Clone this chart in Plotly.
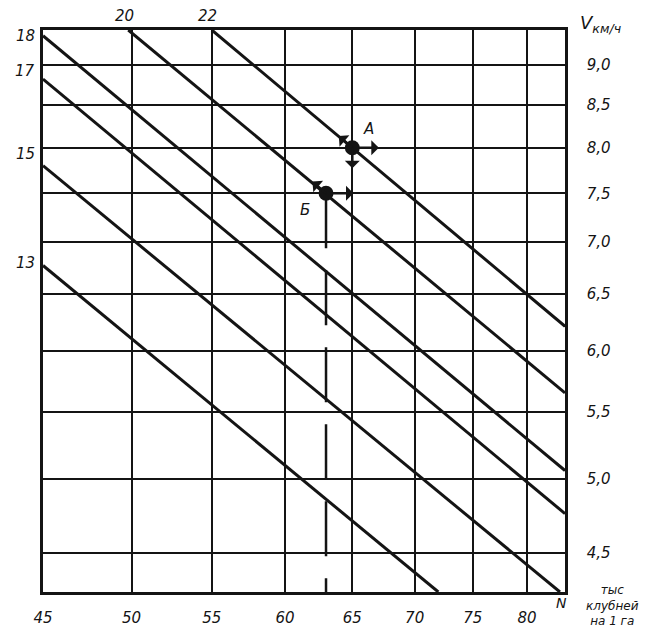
import numpy as np
import plotly.graph_objects as go

# ---- data ----
N_ticks = [45, 50, 55, 60, 65, 70, 75, 80]
N_tick_text = ["45", "50", "55", "60", "65", "70", "75", "80"]
V_ticks = [4.5, 5.0, 5.5, 6.0, 6.5, 7.0, 7.5, 8.0, 8.5, 9.0]
V_tick_text = ["4,5", "5,0", "5,5", "6,0", "6,5", "7,0", "7,5", "8,0", "8,5", "9,0"]
N_range = [45.0, 83.7]
V_range = [4.259, 9.456]

line_labels = ["13", "15", "17", "18", "20", "22"]
line_N_start = [45.0, 45.0, 45.0, 45.0, 49.8, 55.0]
line_V_start = [6.77, 7.80, 8.82, 9.38, 9.456, 9.456]
line_N_end = [72.0, 83.2, 83.7, 83.7, 83.7, 83.7]
line_V_end = [4.259, 4.259, 4.76, 5.06, 5.65, 6.21]

point_labels = ["А", "Б"]
point_N = [65.0, 63.0]
point_V = [8.0, 7.5]

# ---- styling ----
INK = "#141414"
FONT = dict(family="DejaVu Sans", size=15, color=INK, style="italic")
OFF = 8  # default page body margin
W, H = 649, 631
PW, PH = 522, 565
ML, MT = 43 - OFF, 30 - OFF
MR, MB = W - ML - PW, H - MT - PH


def px_x(px):
    return (px - OFF - ML) / PW


def px_y(py):
    return 1 - (py - OFF - MT) / PH


fig = go.Figure()

for lab, n0, v0, n1, v1 in zip(line_labels, line_N_start, line_V_start, line_N_end, line_V_end):
    fig.add_trace(go.Scatter(x=[n0, n1], y=[v0, v1], mode="lines",
                             line=dict(color=INK, width=3), showlegend=False,
                             hoverinfo="skip", name=lab))

# dashed drop line from point Б to the N axis
fig.add_trace(go.Scatter(x=[point_N[1], point_N[1]], y=[point_V[1], V_range[0]],
                         mode="lines", line=dict(color=INK, width=2.5, dash="55px,22px"),
                         showlegend=False, hoverinfo="skip"))

fig.add_trace(go.Scatter(x=point_N, y=point_V, mode="markers",
                         marker=dict(color=INK, size=15), showlegend=False,
                         hoverinfo="skip"))

ann = []
# line labels on the left edge / top edge
left_shift = {"13": 2, "15": 12, "17": 8, "18": 0}
for lab, n0, v0 in zip(line_labels, line_N_start, line_V_start):
    if lab in left_shift:
        ann.append(dict(text=lab, xref="paper", x=px_x(25), yref="y", y=np.log10(v0),
                        yshift=left_shift[lab], showarrow=False, font=FONT,
                        xanchor="center", yanchor="middle"))
    else:
        ann.append(dict(text=lab, xref="x", x=np.log10(n0), xshift=-4, yref="paper",
                        y=px_y(16), showarrow=False, font=FONT,
                        xanchor="center", yanchor="middle"))

# point labels
ann.append(dict(text=point_labels[0], x=np.log10(point_N[0]), y=np.log10(point_V[0]),
                xref="x", yref="y", xshift=16, yshift=19, showarrow=False, font=FONT))
ann.append(dict(text=point_labels[1], x=np.log10(point_N[1]), y=np.log10(point_V[1]),
                xref="x", yref="y", xshift=-21, yshift=-17, showarrow=False, font=FONT))

# small arrows around the points
arrows = [(0, -15, -13), (0, 28, 0), (0, 0, 22), (1, -15, -13), (1, 29, 0)]
for i, ax, ay in arrows:
    ann.append(dict(x=np.log10(point_N[i]), y=np.log10(point_V[i]), xref="x", yref="y",
                    ax=ax, ay=ay, showarrow=True, arrowside="start", arrowhead=2,
                    arrowsize=1, arrowwidth=2.5, arrowcolor=INK, text=""))

# axis titles
ann.append(dict(text="V<sub>км/ч</sub>", xref="paper", yref="paper", x=px_x(578),
                y=px_y(24), xanchor="left", yanchor="middle", showarrow=False,
                font=dict(family="DejaVu Sans", size=18, color=INK, style="italic")))
ann.append(dict(text="N", xref="paper", yref="paper", x=px_x(561), y=px_y(606),
                xanchor="center", yanchor="middle", showarrow=False,
                font=dict(family="DejaVu Sans", size=14, color=INK, style="italic")))
ann.append(dict(text="тыс<br>клубней<br>на 1 га", xref="paper", yref="paper",
                x=px_x(612), y=px_y(609), xanchor="center", yanchor="middle",
                showarrow=False, align="center",
                font=dict(family="DejaVu Sans", size=12, color=INK, style="italic")))

axis_common = dict(type="log", showgrid=True, gridcolor=INK, gridwidth=2,
                   showline=True, mirror=True, linecolor=INK, linewidth=2.5,
                   ticks="", zeroline=False, tickfont=FONT)

fig.update_layout(
    width=W, height=H,
    margin=dict(l=ML, r=MR, t=MT, b=MB),
    paper_bgcolor="white", plot_bgcolor="white",
    xaxis=dict(range=[np.log10(N_range[0]), np.log10(N_range[1])],
               tickvals=N_ticks, ticktext=N_tick_text, ticklabelstandoff=10,
               **axis_common),
    yaxis=dict(range=[np.log10(V_range[0]), np.log10(V_range[1])], side="right",
               tickvals=V_ticks, ticktext=V_tick_text, ticklabelstandoff=16,
               **axis_common),
    annotations=ann,
)

fig.write_html("out.html")
